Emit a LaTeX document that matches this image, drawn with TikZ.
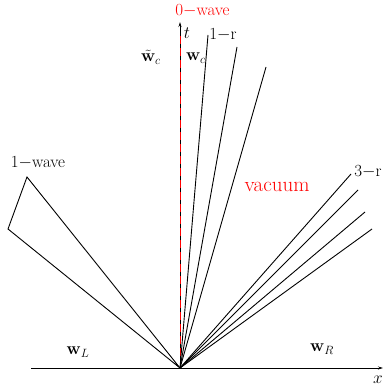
\documentclass[tikz,border=0pt]{standalone}
\usepackage{amsmath,bm}
\usetikzlibrary{arrows.meta}
\begin{document}
\begin{tikzpicture}[x=1pt,y=-1pt,
  wave/.style={line width=0.9pt,black},
  lbl/.style={font=\fontsize{18.5}{22}\selectfont,inner sep=0pt},
  tlbl/.style={font=\fontsize{17}{20}\selectfont,inner sep=0pt},
  redlbl/.style={tlbl,text=red}]
\useasboundingbox (0,0) rectangle (384,387);
\coordinate (O) at (180,368);
\coordinate (xl) at (31,368);
\coordinate (xr) at (383,368);
\coordinate (tt) at (180,22);
\draw[line width=0.9pt,-{Stealth[length=5pt,width=3pt]}] (xl) -- (xr);
\draw[line width=0.9pt,-{Stealth[length=5pt,width=3pt]}] (O) -- (tt);
\coordinate (tr) at (180,36);
\draw[red,line width=1pt,dash pattern=on 8pt off 4pt] (O) -- (tr);
% 1-wave
\coordinate (a1) at (27,177);
\coordinate (a2) at (8,229);
\draw[wave] (O) -- (a1) -- (a2) -- (O);
% 1-r fan
\coordinate (r1) at (208,35);
\coordinate (r2) at (237,47);
\coordinate (r3) at (266,67);
\draw[wave] (O) -- (r1);
\draw[wave] (O) -- (r2);
\draw[wave] (O) -- (r3);
% 3-r fan
\coordinate (s1) at (351,174);
\coordinate (s2) at (358,190);
\coordinate (s3) at (365,212);
\coordinate (s4) at (372,229);
\draw[wave] (O) -- (s1);
\draw[wave] (O) -- (s2);
\draw[wave] (O) -- (s3);
\draw[wave] (O) -- (s4);
% labels
\node[redlbl] (zw) at (202.5,11) {0${-}$wave};
\node[lbl] (tl) at (187,33) {$t$};
\node[tlbl] (onr) at (223,35) {1${-}$r};
\node[lbl] (wtc) at (151,57) {$\tilde{\mathbf{w}}_c$};
\node[lbl] (wc) at (196,58) {$\mathbf{w}_c$};
\node[tlbl] (onw) at (38,163) {1${-}$wave};
\node[tlbl] (thr) at (368,172) {3${-}$r};
\node[redlbl,font=\fontsize{21}{25}\selectfont] (vac) at (277,187) {vacuum};
\node[lbl] (wl) at (78,352) {$\mathbf{w}_L$};
\node[lbl] (wr) at (322,349) {$\mathbf{w}_R$};
\node[lbl] (xlab) at (378,380) {$x$};
\end{tikzpicture}
\end{document}
